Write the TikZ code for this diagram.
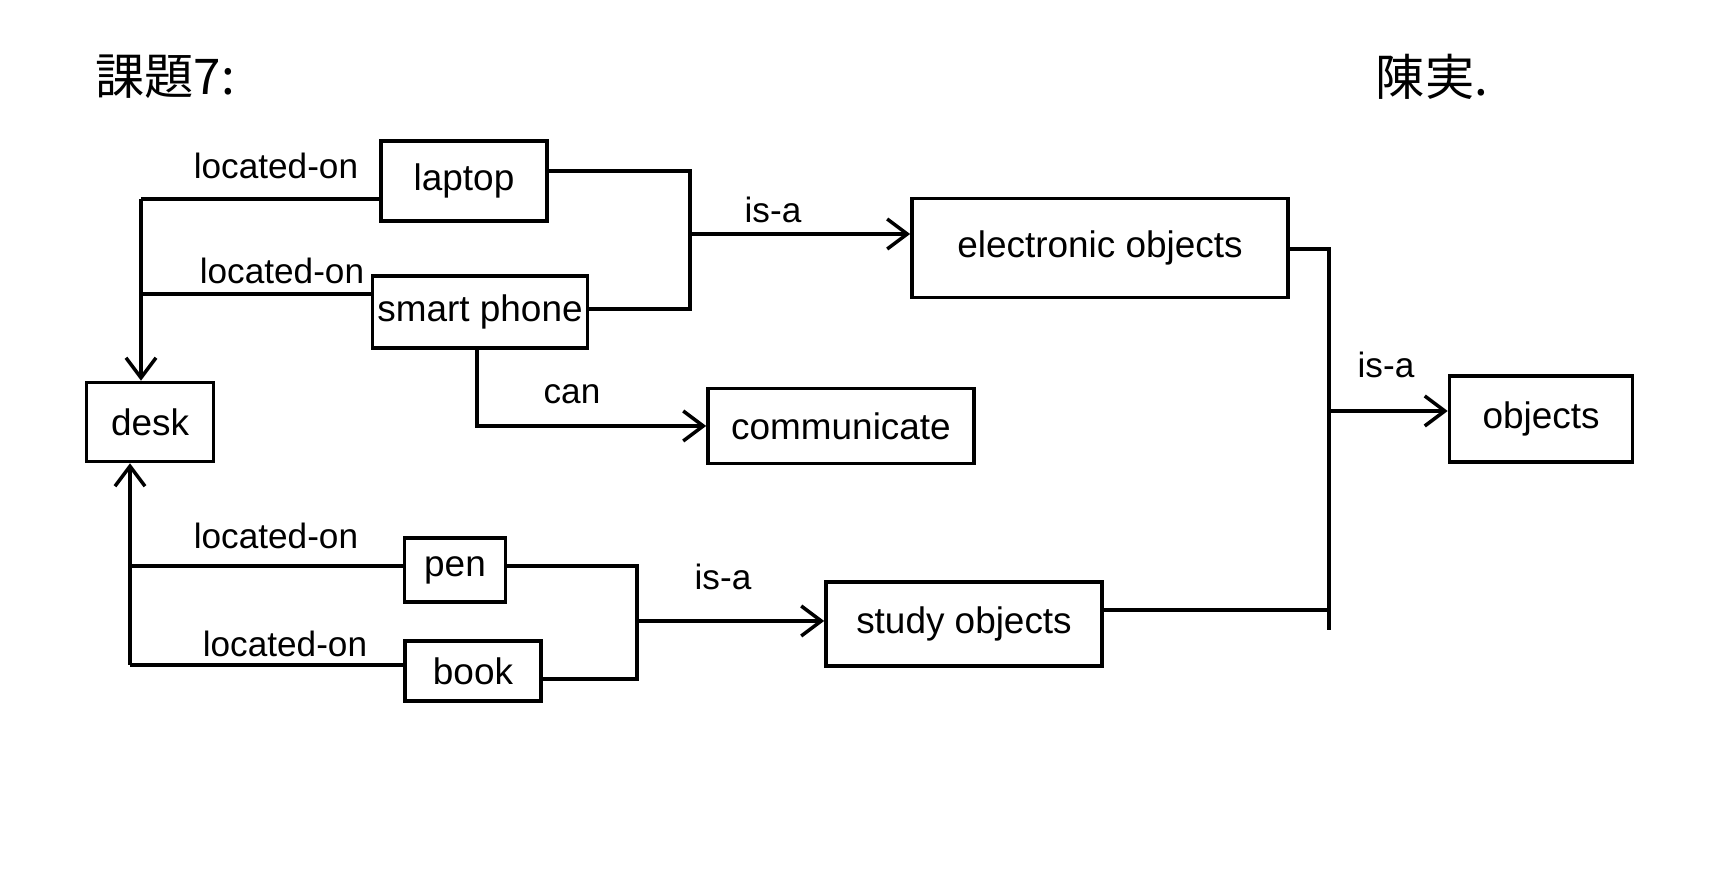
\documentclass[tikz,border=0pt]{standalone}
\usepackage{fontspec}
\setmainfont{Liberation Sans}
\newfontfamily\cjk{Noto Sans CJK JP}
\usepackage{tikz}
\usetikzlibrary{arrows.meta, positioning, calc}

\begin{document}
\begin{tikzpicture}[
    x=0.01cm, y=-0.01cm,
    obj/.style={draw, line width=1pt, font=\fontsize{10.5}{12}\selectfont, inner sep=1pt},
    rel/.style={font=\fontsize{10}{12}\selectfont},
    link/.style={line width=1pt},
    arrow/.style={->, line width=1pt, >={Straight Barb[length=2mm, width=3mm]}}
]
    \useasboundingbox (0,0) rectangle (1732,895);

    % headings
    \node[font=\cjk\fontsize{14}{16}\selectfont] (task) at (165,77) {課題7:};
    \node[font=\cjk\fontsize{14}{16}\selectfont] (name) at (1432,77) {陳実.};

    % concepts
    \node[obj, minimum width=1.66cm, minimum height=0.80cm] (laptop) at (464,181) {laptop};
    \node[obj, minimum width=2.15cm, minimum height=0.72cm] (phone) at (480,312) {smart phone};
    \node[obj, minimum width=1.27cm, minimum height=0.79cm] (desk) at (150,422) {desk};
    \node[obj, minimum width=2.66cm, minimum height=0.75cm] (comm) at (841,426) {communicate};
    \node[obj, minimum width=3.76cm, minimum height=0.99cm] (elec) at (1100,248) {electronic objects};
    \node[obj, minimum width=1.83cm, minimum height=0.86cm] (objects) at (1541,419) {objects};
    \node[obj, minimum width=1.01cm, minimum height=0.64cm] (pen) at (455,570) {pen};
    \node[obj, minimum width=1.36cm, minimum height=0.60cm] (book) at (473,671) {book};
    \node[obj, minimum width=2.76cm, minimum height=0.84cm] (study) at (964,624) {study objects};

    % junctions
    \coordinate (deskTop) at (141,199);
    \coordinate (phoneJoin) at (141,294);
    \coordinate (deskBot) at (130,665);
    \coordinate (penJoin) at (130,566);
    \coordinate (eTop) at (690,171);
    \coordinate (eBot) at (690,309);
    \coordinate (eMid) at (690,234);
    \coordinate (sTop) at (637,566);
    \coordinate (sBot) at (637,679);
    \coordinate (sMid) at (637,621);
    \coordinate (oTop) at (1329,249);
    \coordinate (oBot) at (1329,630);
    \coordinate (oStudy) at (1329,610);
    \coordinate (oMid) at (1329,411);
    \coordinate (canCorner) at (477,423);

    % located-on
    \draw[link] (laptop.west |- deskTop) -- (deskTop);
    \draw[link] (phone.west |- phoneJoin) -- (phoneJoin);
    \draw[arrow] (deskTop) -- (deskTop |- desk.north);
    \draw[link] (pen.west |- penJoin) -- (penJoin);
    \draw[link] (book.west |- deskBot) -- (deskBot);
    \draw[arrow] (deskBot) -- (deskBot |- desk.south);
    \node[rel] (locLaptop) at (276,166) {located-on};
    \node[rel] (locPhone) at (282,271) {located-on};
    \node[rel] (locPen) at (276,536) {located-on};
    \node[rel] (locBook) at (285,644) {located-on};

    % is-a
    \draw[link] (laptop.east |- eTop) -- (eTop) -- (eBot) -- (phone.east |- eBot);
    \draw[arrow] (eMid) -- (elec.west |- eMid);
    \node[rel] (isaElec) at (773,210) {is-a};
    \draw[link] (pen.east |- sTop) -- (sTop) -- (sBot) -- (book.east |- sBot);
    \draw[arrow] (sMid) -- (study.west |- sMid);
    \node[rel] (isaStudy) at (723,577) {is-a};
    \draw[link] (elec.east |- oTop) -- (oTop) -- (oBot);
    \draw[link] (study.east |- oStudy) -- (oStudy);
    \draw[arrow] (oMid) -- (objects.west |- oMid);
    \node[rel] (isaObj) at (1386,365) {is-a};

    % can
    \draw[arrow] (phone.south -| canCorner) |- (comm.west);
    \node[rel] (can) at (572,394) {can};
\end{tikzpicture}
\end{document}
